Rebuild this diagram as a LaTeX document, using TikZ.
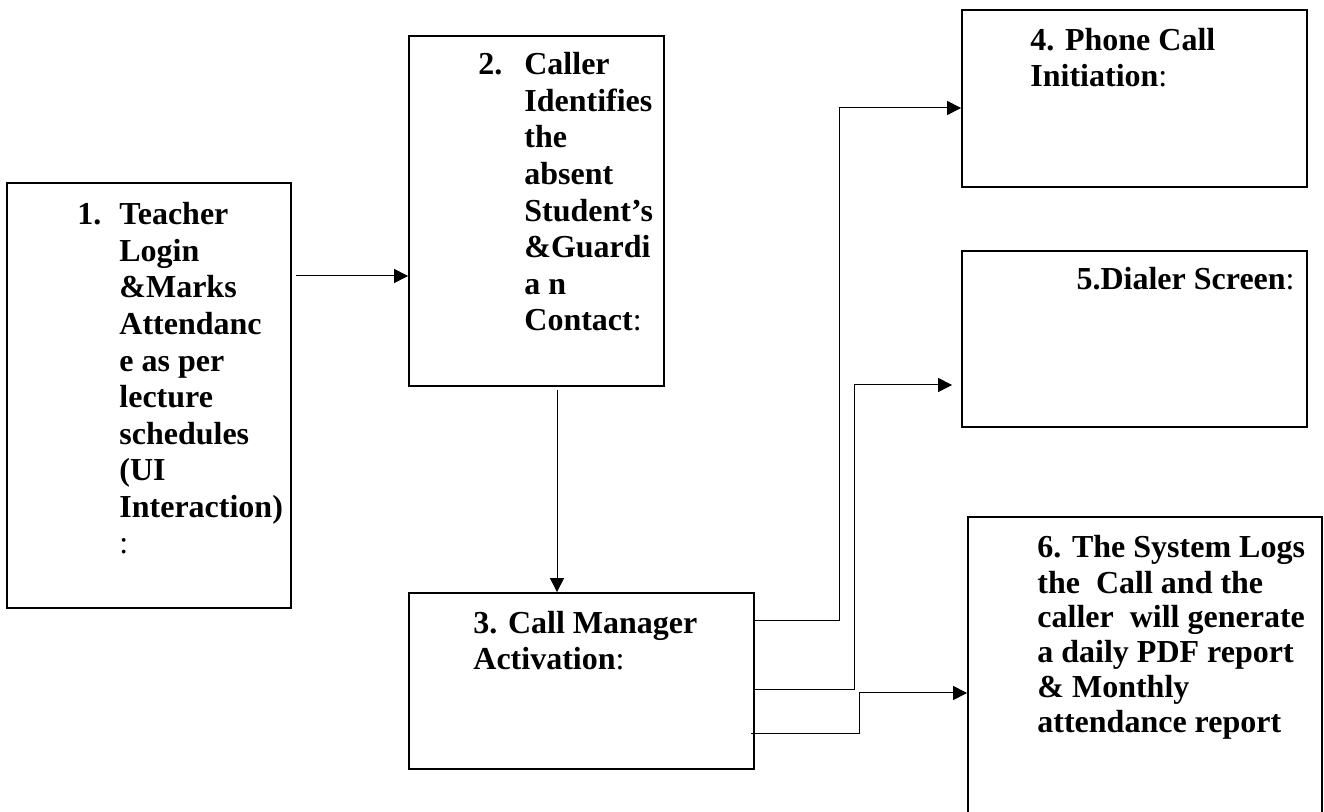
\documentclass[tikz,border=0pt]{standalone}
\usepackage{fontspec}
\setmainfont{Liberation Serif}
\usetikzlibrary{arrows.meta,positioning,calc}

\begin{document}
\begin{tikzpicture}[
        x=0.5pt, y=-0.5pt,
        font=\fontsize{16}{18.3}\selectfont\bfseries,
        box/.style={draw, line width=0.9pt, inner sep=0pt},
        txt/.style={anchor=base west, align=left, inner sep=0pt},
        arr/.style={-{Triangle[length=7pt,width=7pt]}, line width=0.5pt}
    ]
    \useasboundingbox (0,0) rectangle (1324,812);

    % boxes
    \node[box, minimum width=142pt, minimum height=212.5pt] (step1) at (149,395.5) {};
    \node[box, minimum width=127.5pt, minimum height=175pt] (step2) at (536.5,211) {};
    \node[box, minimum width=172.5pt, minimum height=88pt] (step3) at (581.5,681) {};
    \node[box, minimum width=172.5pt, minimum height=88.5pt] (step4) at (1134.5,98.5) {};
    \node[box, minimum width=172.5pt, minimum height=88pt] (step5) at (1134.5,339) {};
    \node[box, minimum width=177pt, minimum height=149.5pt] (step6) at (1145,666.5) {};

    % texts (anchored on the last baseline)
    \node[txt] (text1) at (77,554)
        {\makebox[21pt][l]{1.}Teacher\\
         \hspace*{21pt}Login\\
         \hspace*{21pt}\&Marks\\
         \hspace*{21pt}Attendanc\\
         \hspace*{21pt}e as per\\
         \hspace*{21pt}lecture\\
         \hspace*{21pt}schedules\\
         \hspace*{21pt}(UI\\
         \hspace*{21pt}Interaction)\\
         \hspace*{21pt}{\mdseries :}};
    \node[txt] (text2) at (478,331)
        {\makebox[23pt][l]{2.}Caller\\
         \hspace*{23pt}Identifies\\
         \hspace*{23pt}the\\
         \hspace*{23pt}absent\\
         \hspace*{23pt}Student’s\\
         \hspace*{23pt}\&Guardi\\
         \hspace*{23pt}a n\\
         \hspace*{23pt}Contact{\mdseries :}};
    \node[txt] (text3) at (473,670)
        {3. Call Manager\\ Activation{\mdseries :}};
    \node[txt] (text4) at (1030,87)
        {4. Phone Call\\ Initiation{\mdseries :}};
    \node[txt, anchor=base east] (text5) at (1295,290)
        {5.Dialer Screen{\mdseries :}};
    \node[txt, font=\fontsize{16}{17.5}\selectfont\bfseries] (text6) at (1037,733)
        {6. The System Logs\\
         the\ \ Call and the\\
         caller\ \ will generate\\
         a daily PDF report\\
         \& Monthly\\
         attendance report};

    % connectors
    \coordinate (a12) at (296,276);
    \coordinate (a23) at (557,390);
    \coordinate (k4) at (839,108);
    \coordinate (k5) at (854,385);
    \coordinate (k6) at (859,693);

    \draw[arr] (a12) -- (a12 -| step2.west);
    \draw[arr] (a23) -- (a23 |- step3.north);
    \draw[arr] ([yshift=30pt]step3.east) -| (k4) -- (k4 -| step4.west);
    \draw[arr] ([yshift=-4.5pt]step3.east) -| (k5) -- ([xshift=-4.5pt]k5 -| step5.west);
    \draw[arr] ([xshift=-2pt,yshift=-26.5pt]step3.east) -| (k6) -- (k6 -| step6.west);
\end{tikzpicture}
\end{document}
